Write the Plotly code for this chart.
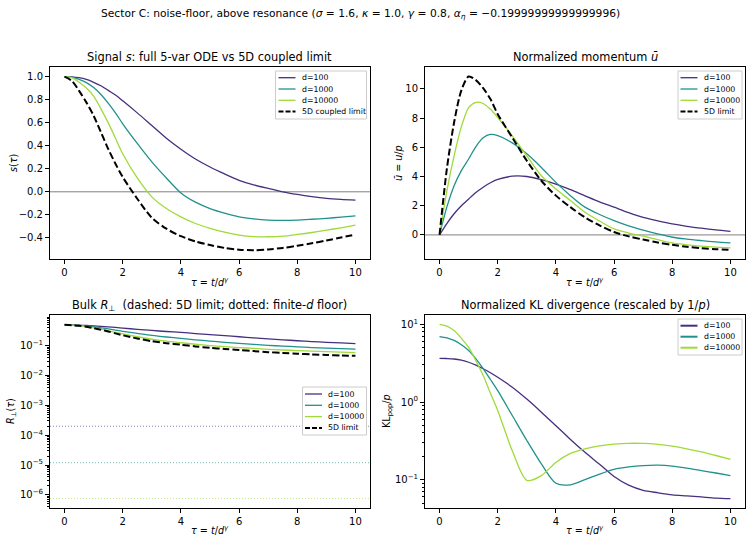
import plotly.graph_objects as go

# ---------------- data ----------------
TAU = [0, 0.25, 0.5, 0.75, 1, 1.25, 1.5, 1.75, 2, 2.5, 3, 3.5, 4, 4.5, 5,
       5.5, 6, 6.5, 7, 7.5, 8, 8.5, 9, 9.5, 10]
D_LABELS = ["d=100", "d=1000", "d=10000"]
COLORS = ["#472f7d", "#21918c", "#a0da39"]

S_D100 = [1.0, 0.998, 0.99, 0.975, 0.95, 0.92, 0.88, 0.84, 0.79, 0.685, 0.575, 0.465, 0.37,
          0.285, 0.215, 0.155, 0.10, 0.06, 0.029, 0.0, -0.023, -0.042, -0.057, -0.066, -0.072]
S_D1000 = [1.0, 0.995, 0.975, 0.948, 0.905, 0.845, 0.77, 0.685, 0.59, 0.42, 0.26, 0.12, -0.01,
           -0.09, -0.145, -0.185, -0.217, -0.235, -0.245, -0.248, -0.245, -0.238, -0.23, -0.22, -0.208]
S_D10000 = [1.0, 0.99, 0.95, 0.90, 0.83, 0.72, 0.60, 0.465, 0.33, 0.12, -0.044, -0.145, -0.217,
            -0.275, -0.317, -0.35, -0.375, -0.388, -0.39, -0.385, -0.37, -0.353, -0.333, -0.312, -0.29]
S_LIMIT = [1.0, 0.963, 0.876, 0.776, 0.66, 0.517, 0.373, 0.244, 0.128, -0.06, -0.225, -0.32, -0.385,
           -0.43, -0.462, -0.487, -0.502, -0.507, -0.5, -0.487, -0.468, -0.447, -0.422, -0.397, -0.37]

U_D100 = [0, 0.78, 1.45, 2.0, 2.46, 2.9, 3.26, 3.57, 3.8, 4.02, 4.0, 3.78, 3.48, 3.1, 2.68,
          2.27, 1.9, 1.53, 1.2, 0.96, 0.75, 0.59, 0.46, 0.34, 0.24]
U_D1000 = [0, 1.9, 3.37, 4.4, 5.2, 6.05, 6.65, 6.88, 6.8, 6.3, 5.55, 4.62, 3.6, 2.69, 1.9,
           1.4, 0.98, 0.62, 0.33, 0.07, -0.16, -0.29, -0.39, -0.48, -0.55]
U_D10000 = [0, 3.0, 5.42, 7.4, 8.72, 9.08, 9.0, 8.6, 8.04, 6.79, 5.42, 4.05, 3.14, 2.35, 1.55,
            0.95, 0.41, 0.13, -0.09, -0.33, -0.55, -0.68, -0.77, -0.84, -0.89]
U_LIMIT = [0, 4.5, 7.7, 9.9, 10.85, 10.6, 10.05, 9.3, 8.27, 6.67, 5.08, 3.71, 2.69, 1.9, 1.2,
           0.65, 0.2, -0.1, -0.32, -0.52, -0.68, -0.81, -0.91, -0.98, -1.03]

R_D100 = [0.5, 0.498, 0.49, 0.478, 0.465, 0.448, 0.43, 0.41, 0.39, 0.355, 0.325, 0.30, 0.28,
          0.256, 0.235, 0.217, 0.2, 0.184, 0.17, 0.158, 0.147, 0.138, 0.13, 0.124, 0.118]
R_D1000 = [0.5, 0.495, 0.48, 0.455, 0.43, 0.40, 0.37, 0.335, 0.305, 0.26, 0.222, 0.196, 0.176,
           0.158, 0.143, 0.13, 0.12, 0.111, 0.103, 0.097, 0.092, 0.087, 0.083, 0.08, 0.077]
R_D10000 = [0.5, 0.49, 0.47, 0.44, 0.40, 0.36, 0.32, 0.28, 0.248, 0.2, 0.165, 0.142, 0.126,
            0.112, 0.101, 0.093, 0.087, 0.081, 0.076, 0.072, 0.069, 0.066, 0.063, 0.061, 0.059]
R_LIMIT = [0.5, 0.488, 0.465, 0.43, 0.39, 0.345, 0.30, 0.26, 0.225, 0.175, 0.142, 0.122, 0.108,
           0.095, 0.085, 0.078, 0.072, 0.066, 0.061, 0.057, 0.054, 0.051, 0.049, 0.047, 0.046]
R_FLOOR = [2.0e-4, 1.2e-5, 7.5e-7]

KL_D100 = [3.65, 3.63, 3.58, 3.45, 3.25, 2.98, 2.68, 2.38, 2.08, 1.55, 1.09, 0.74, 0.495, 0.33,
           0.225, 0.158, 0.11, 0.085, 0.073, 0.068, 0.064, 0.062, 0.06, 0.058, 0.057]
KL_D1000 = [6.95, 6.7, 6.2, 5.45, 4.6, 3.6, 2.7, 1.95, 1.40, 0.67, 0.32, 0.16, 0.09, 0.086,
            0.1, 0.118, 0.136, 0.146, 0.152, 0.154, 0.15, 0.141, 0.131, 0.122, 0.113]
KL_D10000 = [10.0, 9.5, 8.3, 6.6, 5.05, 3.4, 2.2, 1.3, 0.78, 0.236, 0.098, 0.113, 0.167, 0.218,
             0.25, 0.272, 0.287, 0.294, 0.293, 0.285, 0.27, 0.25, 0.228, 0.205, 0.183]

X_TICKS = [0, 2, 4, 6, 8, 10]
S_TICKS = [-0.4, -0.2, 0.0, 0.2, 0.4, 0.6, 0.8, 1.0]
U_TICKS = [0, 2, 4, 6, 8, 10]
R_TICK_EXP = [-6, -5, -4, -3, -2, -1]
KL_TICK_EXP = [-1, 0, 1]

FONT = "DejaVu Sans"
SUPTITLE_SIZE = 10.7
TITLE_SIZE = 11.4
LABEL_SIZE = 9.6
TICK_SIZE = 10
LEGEND_SIZE = 7.8

# ---------------- figure ----------------
fig = go.Figure()

W, H = 752, 542
def px_x(a, b):
    return [a / W, b / W]
def px_y(top, bottom):
    return [1 - bottom / H, 1 - top / H]

DOM_X_L = px_x(50, 370)
DOM_X_R = px_x(425, 745)
DOM_Y_T = px_y(67, 259)
DOM_Y_B = px_y(315, 508)

def add_line(x, y, xa, ya, color, name, dash=None, width=1.3):
    fig.add_trace(go.Scatter(
        x=x, y=y, xaxis=xa, yaxis=ya, mode="lines", name=name,
        line=dict(color=color, width=width, dash=dash, shape="spline", smoothing=0.8),
        showlegend=False))

DASH = "7px,3px"

for ys, c, n in zip([S_D100, S_D1000, S_D10000], COLORS, D_LABELS):
    add_line(TAU, ys, "x", "y", c, n)
add_line(TAU, S_LIMIT, "x", "y", "black", "5D coupled limit", dash=DASH, width=2)

for ys, c, n in zip([U_D100, U_D1000, U_D10000], COLORS, D_LABELS):
    add_line(TAU, ys, "x2", "y2", c, n)
add_line(TAU, U_LIMIT, "x2", "y2", "black", "5D limit", dash=DASH, width=2)

for ys, c, n in zip([R_D100, R_D1000, R_D10000], COLORS, D_LABELS):
    add_line(TAU, ys, "x3", "y3", c, n)
add_line(TAU, R_LIMIT, "x3", "y3", "black", "5D limit", dash=DASH, width=2)

for ys, c, n in zip([KL_D100, KL_D1000, KL_D10000], COLORS, D_LABELS):
    add_line(TAU, ys, "x4", "y4", c, n)

shapes = []
for xa, ya in [("x", "y"), ("x2", "y2")]:
    shapes.append(dict(type="line", xref=xa + " domain", yref=ya, x0=0, x1=1, y0=0, y1=0,
                       line=dict(color="#808080", width=1), layer="below"))
for fl, c in zip(R_FLOOR, COLORS):
    shapes.append(dict(type="line", xref="x3 domain", yref="y3", x0=0, x1=1, y0=fl, y1=fl,
                       line=dict(color=c, width=1, dash="1px,2px"), opacity=0.6, layer="below"))

annotations = []

def text(x, y, s, size, angle=0, anchor="center"):
    annotations.append(dict(x=x / W, y=1 - y / H, xref="paper", yref="paper", text=s,
                            showarrow=False, textangle=angle, xanchor=anchor, yanchor="middle",
                            font=dict(family=FONT, size=size, color="black")))

# custom matplotlib-like legends (box in pixels, entries from the series lists)
def legend(x0, x1, y0, y1, first_y, step, line_x0, entries):
    shapes.append(dict(type="rect", xref="paper", yref="paper",
                       x0=x0 / W, x1=x1 / W, y0=1 - y1 / H, y1=1 - y0 / H,
                       line=dict(color="#cccccc", width=1),
                       fillcolor="rgba(255,255,255,0.85)", layer="above"))
    for i, (name, color, dash, w) in enumerate(entries):
        yy = first_y + i * step
        shapes.append(dict(type="line", xref="paper", yref="paper",
                           x0=line_x0 / W, x1=(line_x0 + 17) / W,
                           y0=1 - yy / H, y1=1 - yy / H,
                           line=dict(color=color, width=w, dash=dash), layer="above"))
        text(line_x0 + 21, yy, name, LEGEND_SIZE, anchor="left")

base_entries = [(n, c, None, 1.3) for n, c in zip(D_LABELS, COLORS)]
legend(275.5, 366.5, 71, 119, 77.7, 11.3, 278.5, base_entries + [("5D coupled limit", "black", "5px,2px", 2)])
legend(678, 742, 71, 119, 77.7, 11.3, 680.5, base_entries + [("5D limit", "black", "5px,2px", 2)])
legend(302.5, 366.5, 387, 435, 394, 11.3, 305, base_entries + [("5D limit", "black", "5px,2px", 2)])
legend(678, 742, 319, 355, 325.7, 11.0, 680.5, [(n, c, None, 2) for n, c in zip(D_LABELS, COLORS)])

text(360, 14, "Sector C: noise-floor, above resonance (<i>σ</i> = 1.6, <i>κ</i> = 1.0, "
     "<i>γ</i> = 0.8, <i>α</i><sub><i>η</i></sub> = \u22120.19999999999999996)", SUPTITLE_SIZE)
text(210, 57, "Signal <i>s</i>: full 5-var ODE vs 5D coupled limit", TITLE_SIZE)
text(585, 57, "Normalized momentum <i>ū</i>", TITLE_SIZE)
text(210, 305, "Bulk <i>R</i><sub>⊥</sub>  (dashed: 5D limit; dotted: finite-<i>d</i> floor)", TITLE_SIZE)
text(585, 305, "Normalized KL divergence (rescaled by 1/<i>p</i>)", TITLE_SIZE)

XLAB = "<i>τ</i> = <i>t</i>/<i>d</i><sup><i>γ</i></sup>"
for cx in (210, 585):
    text(cx, 282, XLAB, LABEL_SIZE)
    text(cx, 530, XLAB, LABEL_SIZE)

text(13, 163, "<i>s</i>(<i>τ</i>)", LABEL_SIZE, -90)
text(398, 163, "<i>ū</i> = <i>u</i>/<i>p</i>", LABEL_SIZE, -90)
text(11, 411, "<i>R</i><sub>⊥</sub>(<i>τ</i>)", LABEL_SIZE, -90)
text(387, 411, "KL<sub>pop</sub>/<i>p</i>", LABEL_SIZE, -90)

axis_common = dict(showline=True, mirror=True, linecolor="black", linewidth=1,
                   ticks="outside", ticklen=4, tickwidth=1, tickcolor="black",
                   showgrid=False, zeroline=False,
                   tickfont=dict(family=FONT, size=TICK_SIZE, color="black"))

def xaxis(dom, anchor):
    return dict(domain=dom, anchor=anchor, range=[-0.5, 10.5], tickvals=X_TICKS,
                ticktext=[str(v) for v in X_TICKS], **axis_common)

def pow_label(e):
    return "10<sup>" + ("\u2212" + str(-e) if e < 0 else str(e)) + "</sup>"

def minor_vals(e0, e1):
    return [m * 10.0 ** e for e in range(e0, e1) for m in range(2, 10)]

fig.update_layout(
    width=W, height=H, margin=dict(l=0, r=0, t=0, b=0),
    paper_bgcolor="white", plot_bgcolor="white", showlegend=False,
    font=dict(family=FONT, color="black"),
    xaxis=xaxis(DOM_X_L, "y"), xaxis2=xaxis(DOM_X_R, "y2"),
    xaxis3=xaxis(DOM_X_L, "y3"), xaxis4=xaxis(DOM_X_R, "y4"),
    yaxis=dict(domain=DOM_Y_T, anchor="x", range=[-0.583, 1.083], tickvals=S_TICKS,
               ticktext=[("\u2212" if v < 0 else "") + f"{abs(v):.1f}" for v in S_TICKS],
               **axis_common),
    yaxis2=dict(domain=DOM_Y_T, anchor="x2", range=[-1.65, 11.5], tickvals=U_TICKS,
                ticktext=[str(v) for v in U_TICKS], **axis_common),
    yaxis3=dict(domain=DOM_Y_B, anchor="x3", type="log", range=[-6.44, 0.03],
                tickvals=[10.0 ** e for e in R_TICK_EXP],
                ticktext=[pow_label(e) for e in R_TICK_EXP],
                minor=dict(tickvals=minor_vals(-7, 1), ticks="outside", ticklen=2,
                           tickcolor="black", showgrid=False),
                **axis_common),
    yaxis4=dict(domain=DOM_Y_B, anchor="x4", type="log", range=[-1.364, 1.12],
                tickvals=[10.0 ** e for e in KL_TICK_EXP],
                ticktext=[pow_label(e) for e in KL_TICK_EXP],
                minor=dict(tickvals=minor_vals(-2, 2), ticks="outside", ticklen=2,
                           tickcolor="black", showgrid=False),
                **axis_common),
    shapes=shapes,
    annotations=annotations,
)

fig.write_html("out.html")
